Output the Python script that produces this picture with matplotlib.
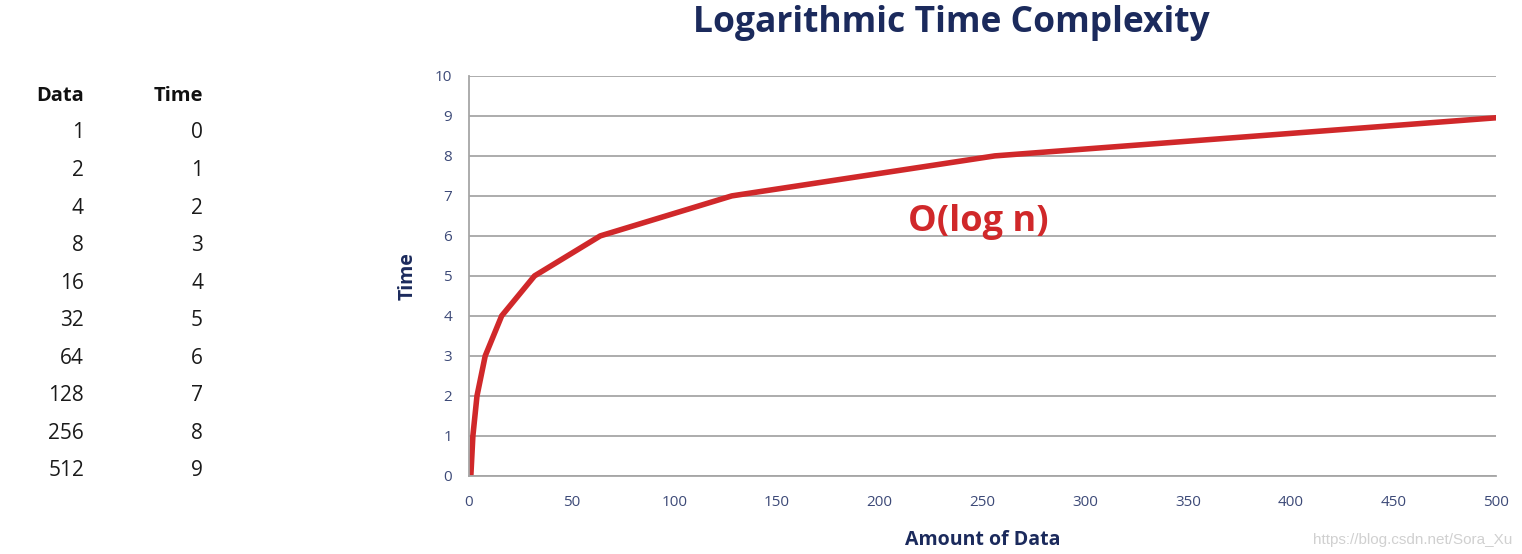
import matplotlib.pyplot as plt
import numpy as np

# values
data_sizes = [1, 2, 4, 8, 16, 32, 64, 128, 256, 512]
times = [0, 1, 2, 3, 4, 5, 6, 7, 8, 9]
x_ticks = [0, 50, 100, 150, 200, 250, 300, 350, 400, 450, 500]
y_ticks = [0, 1, 2, 3, 4, 5, 6, 7, 8, 9, 10]

navy = '#1b2a5c'
tick_col = '#3d4a78'
red = '#d0282a'

plt.rcParams['font.family'] = ['Open Sans', 'DejaVu Sans']

fig = plt.figure(figsize=(15.22, 5.54), dpi=100)
ax = fig.add_axes([0.308, 0.141, 0.675, 0.722])

ax.plot(data_sizes, times, color=red, linewidth=4, solid_joinstyle='round', clip_on=True)
ax.set_xlim(0, 500)
ax.set_ylim(0, 10)
ax.set_xticks(x_ticks)
ax.set_yticks(y_ticks)
ax.tick_params(length=0, labelsize=11, labelcolor=tick_col, pad=14)
ax.tick_params(axis='y', pad=12)
ax.grid(axis='y', color='#a6a6a6', linewidth=1.3)
ax.set_axisbelow(True)
for s in ['top', 'right']:
    ax.spines[s].set_visible(False)
for s in ['left', 'bottom']:
    ax.spines[s].set_color('#a6a6a6')
    ax.spines[s].set_linewidth(1.3)

ax.set_ylabel('Time', fontsize=14, fontweight='bold', color=navy, labelpad=12)
ax.set_xlabel('Amount of Data', fontsize=14, fontweight='bold', color=navy, labelpad=14)
ax.text(248, 6.35, 'O(log n)', fontsize=26, fontweight='bold', color=red,
        ha='center', va='center')

fig.text(0.625, 0.958, 'Logarithmic Time Complexity', fontsize=25.5, fontweight='bold',
         color=navy, ha='center', va='center')

# table on the left
row_y = np.linspace(133, 471, len(data_sizes))
fig.text(84 / 1522, 1 - 96 / 554, 'Data', fontsize=14.5, fontweight='bold', ha='right', va='center', color='#111111')
fig.text(203 / 1522, 1 - 96 / 554, 'Time', fontsize=14.5, fontweight='bold', ha='right', va='center', color='#111111')
for d, t, y in zip(data_sizes, times, row_y):
    fig.text(84 / 1522, 1 - y / 554, str(d), fontsize=15, ha='right', va='center', color='#1a1a1a')
    fig.text(203 / 1522, 1 - y / 554, str(t), fontsize=15, ha='right', va='center', color='#1a1a1a')

fig.text(0.994, 0.025, 'https://blog.csdn.net/Sora_Xu', fontsize=11, color='#d0d0d0',
         ha='right', va='center', family='Liberation Sans')

fig.savefig('out.png', dpi=100, facecolor='white')
